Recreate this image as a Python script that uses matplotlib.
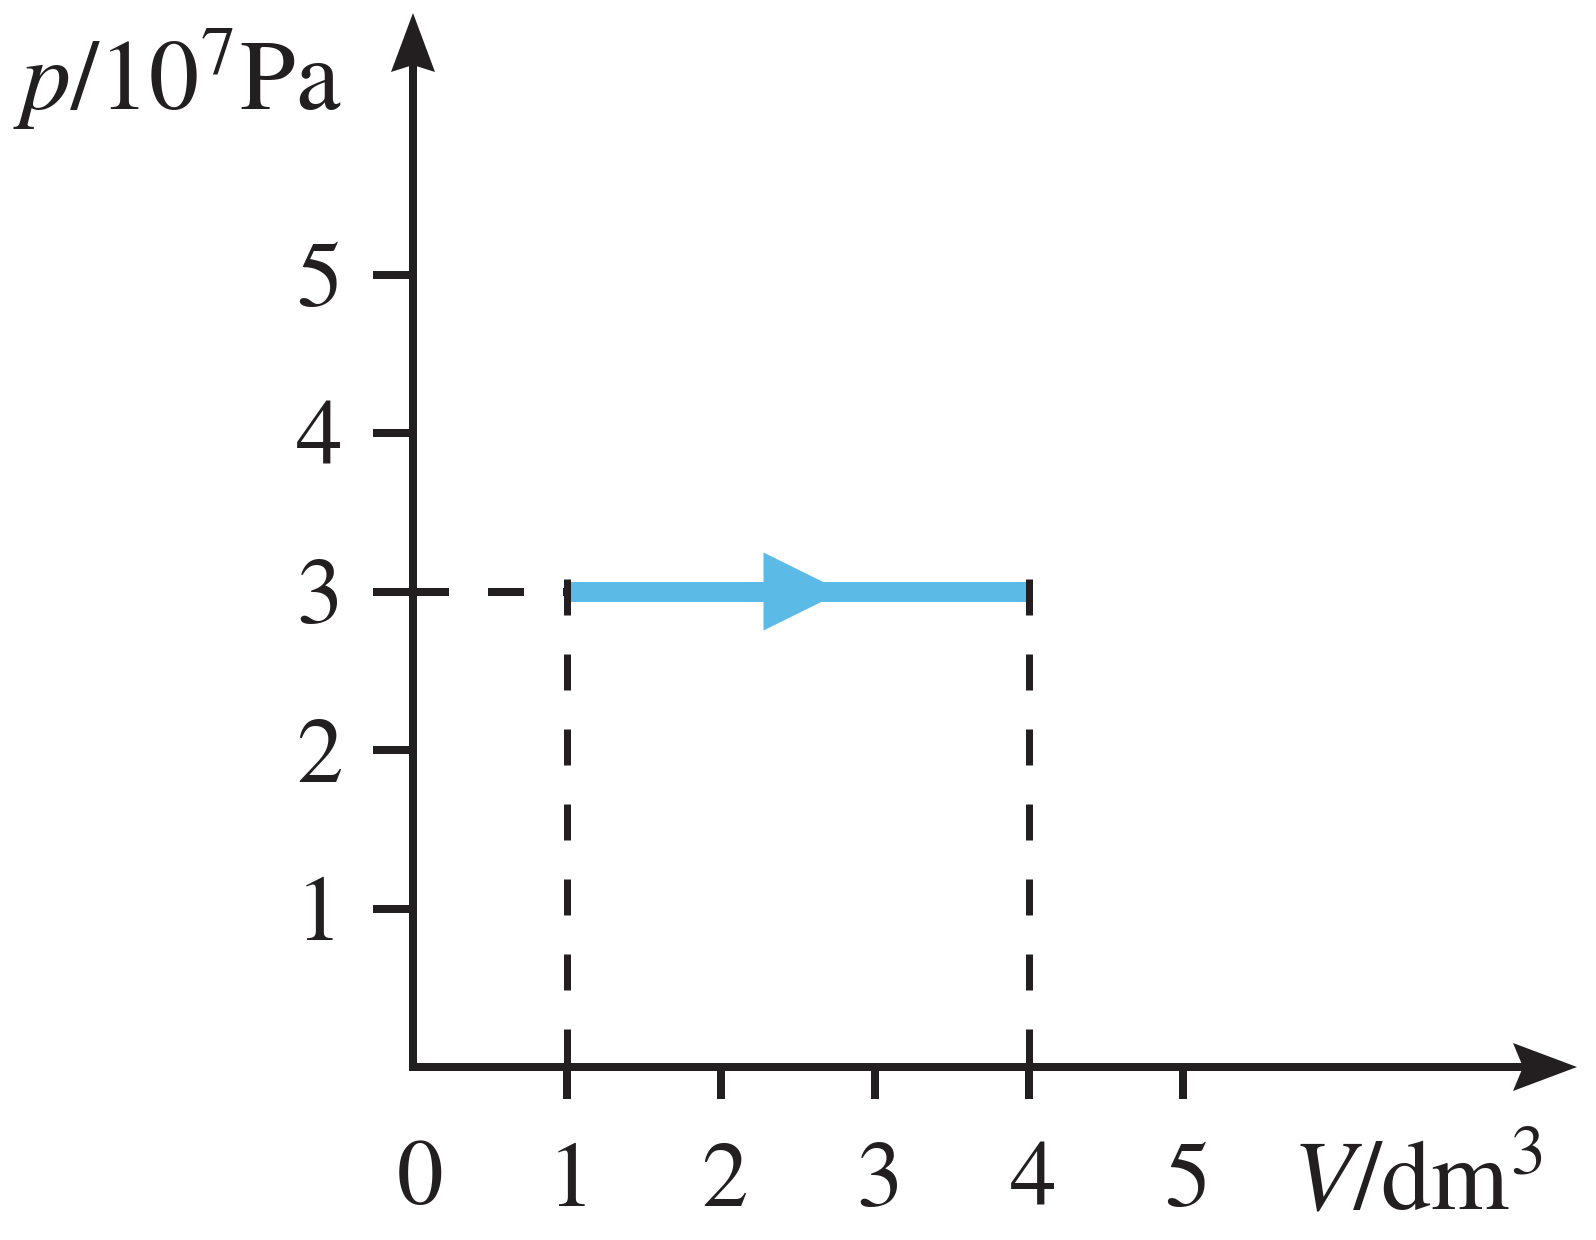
import matplotlib
matplotlib.use("Agg")
import matplotlib.pyplot as plt
from matplotlib.patches import Polygon
from matplotlib.transforms import ScaledTranslation

# data
volume_ticks = [1, 2, 3, 4, 5]
pressure_ticks = [1, 2, 3, 4, 5]
v_start = 1
v_end = 4
p_const = 3

INK = "#231f20"
BLUE = "#5bbbe6"

# pixel geometry of the reference (origin and scale)
W, H = 1596, 1240
X0, Y0 = 413, 1067
SX, SY = 154.0, 158.5


def dx(px):
    return px / SX


def dy(px):
    return px / SY


def px_to_x(px):
    return (px - X0) / SX


def px_to_y(py):
    return (Y0 - py) / SY


plt.rcParams["font.family"] = ["STIXGeneral", "DejaVu Serif"]
plt.rcParams["mathtext.fontset"] = "stix"
plt.rcParams["lines.scale_dashes"] = False

fig = plt.figure(figsize=(W / 100, H / 100), dpi=100)
ax = fig.add_axes([0, 0, 1, 1])
ax.set_xlim(px_to_x(0), px_to_x(W))
ax.set_ylim(px_to_y(H), px_to_y(0))

lw_axis = 8 * 0.72
for side in ["top", "right"]:
    ax.spines[side].set_visible(False)
for side in ["left", "bottom"]:
    ax.spines[side].set_position(("data", 0))
    ax.spines[side].set_linewidth(lw_axis)
    ax.spines[side].set_color(INK)
    ax.spines[side].set_capstyle("projecting")

# axis arrows
ytip = px_to_y(13)
xtip = px_to_x(1577)
ax.spines["left"].set_bounds(0, ytip - dy(50))
ax.spines["bottom"].set_bounds(0, xtip - dx(55))
ax.add_patch(Polygon([(0, ytip), (-dx(22), ytip - dy(59)), (0, ytip - dy(52)),
                      (dx(22), ytip - dy(59))], closed=True, color=INK, lw=0, zorder=4))
ax.add_patch(Polygon([(xtip, 0), (xtip - dx(64), dy(24)), (xtip - dx(54), 0),
                      (xtip - dx(64), -dy(24))], closed=True, color=INK, lw=0, zorder=4))

ax.set_xticks(volume_ticks)
ax.set_xticklabels([str(v) for v in volume_ticks])
ax.set_yticks(pressure_ticks)
ax.set_yticklabels([str(p) for p in pressure_ticks])
ax.tick_params(axis="x", direction="out", length=32 * 0.72, width=lw_axis,
               color=INK, labelcolor=INK, labelsize=67, pad=31)
ax.tick_params(axis="y", direction="out", length=40 * 0.72, width=lw_axis,
               color=INK, labelcolor=INK, labelsize=67, pad=25)
shift = ScaledTranslation(4 / 100, 0, fig.dpi_scale_trans)
for lab in ax.get_xticklabels():
    lab.set_transform(lab.get_transform() + shift)
shift_y = ScaledTranslation(4 / 100, 0, fig.dpi_scale_trans)
for lab in ax.get_yticklabels():
    lab.set_transform(lab.get_transform() + shift_y)
ax.text(dx(7), px_to_y(1140), "0", ha="center", va="top", fontsize=67, color=INK)

# isobaric process line with arrow
ax.plot([v_start, v_end], [p_const, p_const], color=BLUE, lw=20 * 0.72,
        solid_capstyle="butt", zorder=3)
mid = (v_start + v_end) / 2 + dx(5)
head_len = dx(79)
head_half = dy(39)
ax.add_patch(Polygon([(mid - head_len / 2, p_const + head_half),
                      (mid + head_len / 2, p_const),
                      (mid - head_len / 2, p_const - head_half)],
                     closed=True, color=BLUE, lw=0, zorder=3))

# dashed guide lines
dash = (0, (36 * 0.72, 39 * 0.72))
top = p_const + dy(13)
for v in [v_start, v_end]:
    ax.plot([v, v], [top, 0], color=INK, lw=7 * 0.72, linestyle=dash,
            dash_capstyle="butt", zorder=4)
ax.plot([0, v_start], [p_const, p_const], color=INK, lw=8 * 0.72, linestyle=dash,
        dash_capstyle="butt", zorder=4)

# axis titles
ax.text(px_to_x(342), px_to_y(110), r"$p$/10$^{7}$Pa", ha="right", va="baseline",
        fontsize=72, color=INK)
ax.text(px_to_x(1292), px_to_y(1209), r"$V$/dm$^{3}$", ha="left", va="baseline",
        fontsize=72, color=INK)

fig.savefig("out.png", dpi=100)
